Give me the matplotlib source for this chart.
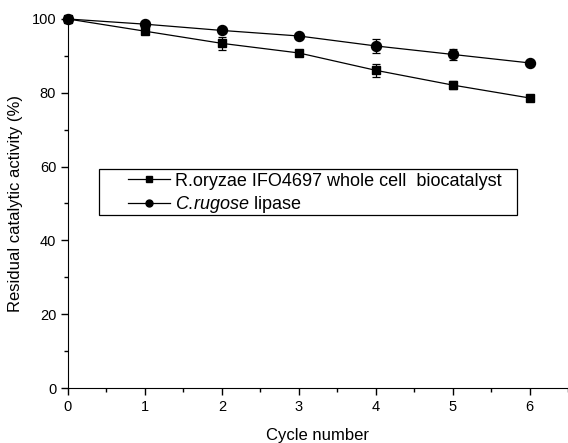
import matplotlib
matplotlib.use("Agg")
import matplotlib.pyplot as plt
from matplotlib.lines import Line2D
from matplotlib.patches import Rectangle
from matplotlib.ticker import MultipleLocator

plt.rcParams['font.family'] = ['Liberation Sans', 'DejaVu Sans']
plt.rcParams['mathtext.fontset'] = 'custom'
plt.rcParams['mathtext.rm'] = 'Liberation Sans'
plt.rcParams['mathtext.it'] = 'Liberation Sans:italic'

# data
cycles = [0, 1, 2, 3, 4, 5, 6]
oryzae = [100, 96.7, 93.4, 90.8, 86.1, 82.1, 78.6]
oryzae_err = [0, 0.5, 1.7, 0.5, 1.7, 1.2, 0.4]
rugose = [100, 98.6, 96.9, 95.4, 92.7, 90.4, 88.1]
rugose_err = [0, 0.6, 0.7, 0.5, 2.0, 1.6, 0.4]
labels = ['R.oryzae IFO4697 whole cell  biocatalyst',
          r'$\mathit{C.}\!\mathit{rugose}$ lipase']

fig = plt.figure(figsize=(5.68, 4.43), dpi=100)
ax = fig.add_axes([68 / 568, 55 / 443, 500 / 568, 369 / 443])

ax.errorbar(cycles, oryzae, yerr=oryzae_err, color='black', marker='s',
            markersize=6.2, linewidth=0.9, elinewidth=0.9, capsize=2.8,
            capthick=0.9, clip_on=False, zorder=3)
ax.errorbar(cycles, rugose, yerr=rugose_err, color='black', marker='o',
            markersize=7.2, linewidth=0.9, elinewidth=0.9, capsize=2.8,
            capthick=0.9, clip_on=False, zorder=3)

ax.set_xlim(0, 6.5)
ax.set_ylim(0, 100)
ax.spines['top'].set_visible(False)
ax.spines['right'].set_visible(False)

ax.xaxis.set_major_locator(MultipleLocator(1))
ax.xaxis.set_minor_locator(MultipleLocator(0.5))
ax.yaxis.set_major_locator(MultipleLocator(20))
ax.yaxis.set_minor_locator(MultipleLocator(10))
ax.tick_params(which='major', direction='out', length=5, width=1, labelsize=10.5)
ax.tick_params(which='minor', direction='out', length=3, width=1)

ax.set_xlabel('Cycle number', fontsize=12, labelpad=10)
ax.set_ylabel('Residual catalytic activity (%)', fontsize=12, labelpad=6)

# legend: plain line + small marker, box drawn separately
handles = [Line2D([], [], color='black', lw=0.9, marker='s', markersize=4.5),
           Line2D([], [], color='black', lw=0.9, marker='o', markersize=5.0)]
ax.legend(handles, labels, loc='center left', bbox_to_anchor=(0.12, 0.526),
          fontsize=13, frameon=False, handlelength=2.3, handletextpad=0.3,
          borderpad=0, borderaxespad=0, labelspacing=0.25)
ax.add_patch(Rectangle((0.062, 0.4688), 0.836, 0.1247, transform=ax.transAxes,
                       fill=False, edgecolor='black', linewidth=0.9, zorder=4))

fig.savefig('out.png', dpi=100)
